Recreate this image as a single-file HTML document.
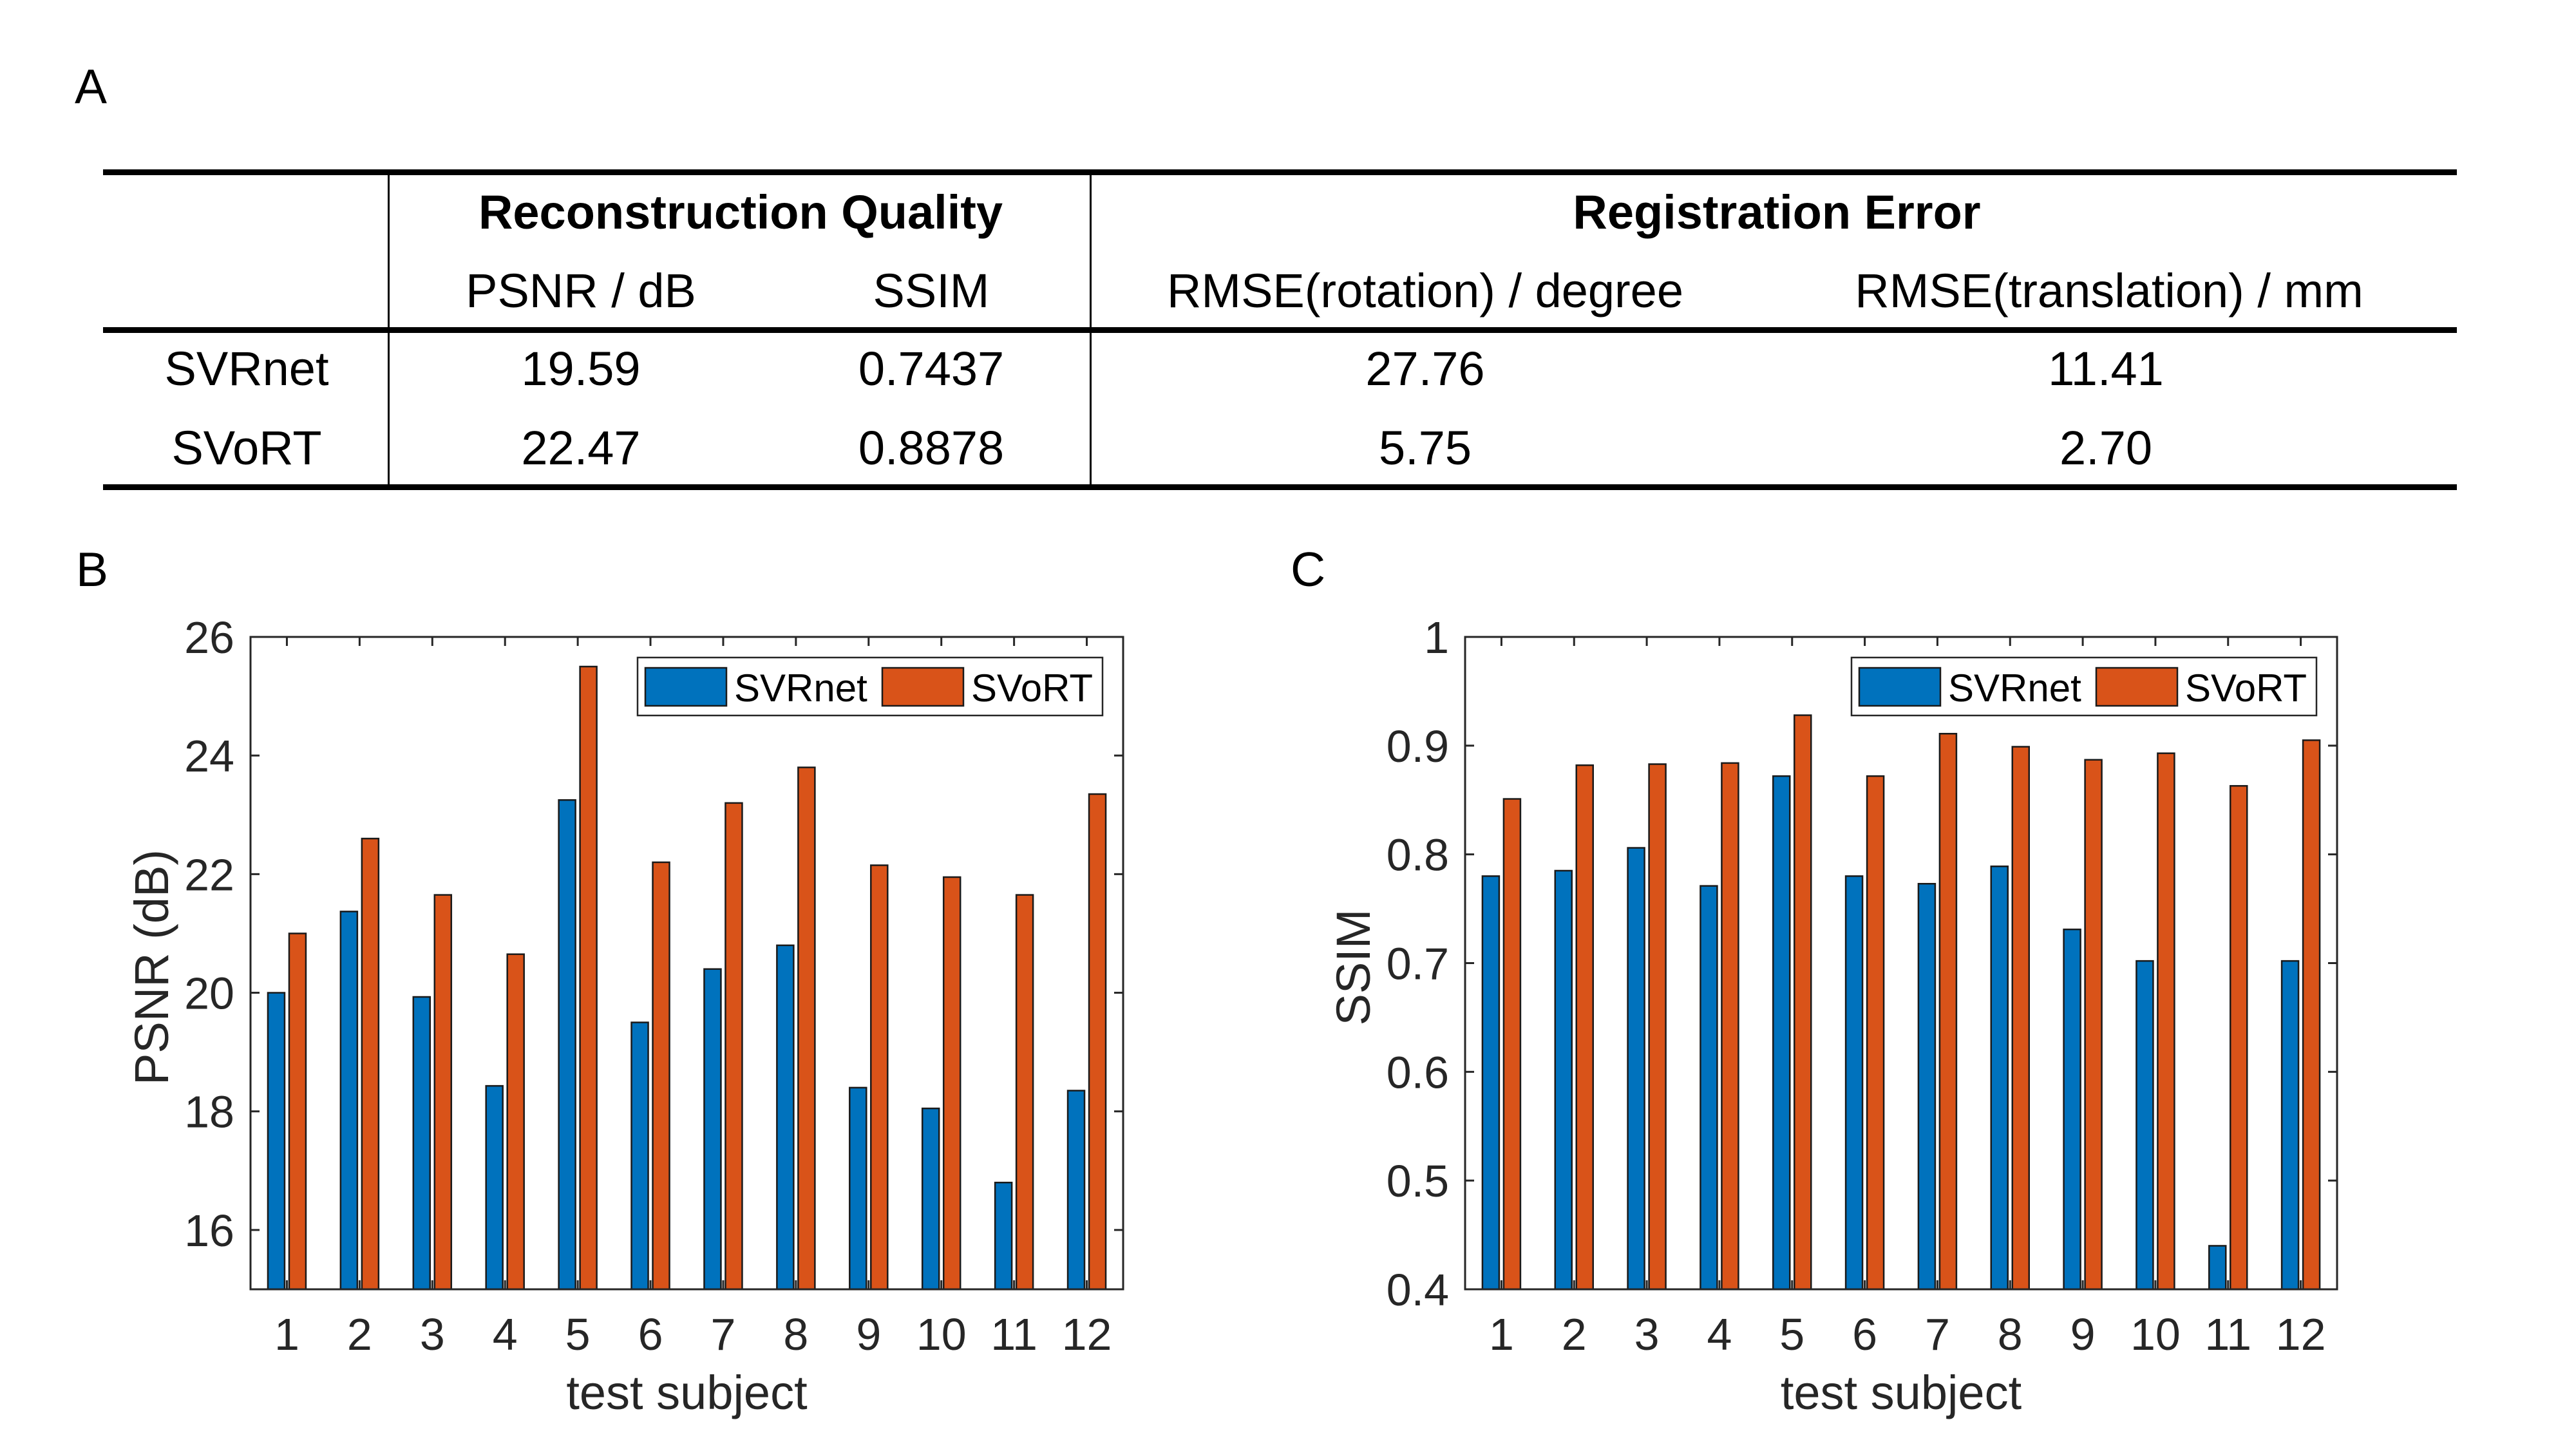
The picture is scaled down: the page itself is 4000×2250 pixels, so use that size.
<!DOCTYPE html>
<html><head><meta charset="utf-8"><style>
html,body{margin:0;padding:0;background:#fff}
svg{display:block;font-family:"Liberation Sans",Arial,sans-serif}
</style></head><body>
<svg id="fig" width="4000" height="2250" viewBox="0 0 4000 2250" xmlns="http://www.w3.org/2000/svg">
<rect width="4000" height="2250" fill="#fff"/>
<text x="116" y="160" font-size="75">A</text>
<g font-size="74" text-anchor="middle" fill="#000">
  <rect x="160" y="263" width="3655" height="9" fill="#000"/>
  <rect x="160" y="508" width="3655" height="9" fill="#000"/>
  <rect x="160" y="752" width="3655" height="9" fill="#000"/>
  <rect x="602" y="272" width="3" height="480" fill="#000"/>
  <rect x="1692" y="272" width="3" height="480" fill="#000"/>
  <text x="1150" y="355" font-weight="bold">Reconstruction Quality</text>
  <text x="2759" y="355" font-weight="bold">Registration Error</text>
  <text x="902" y="477">PSNR / dB</text>
  <text x="1446" y="477">SSIM</text>
  <text x="2213" y="477">RMSE(rotation) / degree</text>
  <text x="3275" y="477">RMSE(translation) / mm</text>
  <text x="383" y="598">SVRnet</text>
  <text x="902" y="598">19.59</text>
  <text x="1446" y="598">0.7437</text>
  <text x="2213" y="598">27.76</text>
  <text x="3270" y="598">11.41</text>
  <text x="383" y="721">SVoRT</text>
  <text x="902" y="721">22.47</text>
  <text x="1446" y="721">0.8878</text>
  <text x="2213" y="721">5.75</text>
  <text x="3270" y="721">2.70</text>
</g>
<text x="118" y="910" font-size="75">B</text>
<text x="2004" y="910" font-size="75">C</text>
<g id="chartB"></g>
<g id="chartC"></g>
</svg>
<script>
const categories = [1,2,3,4,5,6,7,8,9,10,11,12];
const psnrSVRnet = [20.0,21.37,19.93,18.43,23.25,19.5,20.4,20.8,18.4,18.05,16.8,18.35];
const psnrSVoRT = [21.0,22.6,21.65,20.65,25.5,22.2,23.2,23.8,22.15,21.95,21.65,23.35];
const psnrTicks = [16,18,20,22,24,26];
const psnrTickLabels = ["16","18","20","22","24","26"];
const ssimSVRnet = [0.78,0.785,0.806,0.771,0.872,0.78,0.773,0.789,0.731,0.702,0.44,0.702];
const ssimSVoRT = [0.851,0.882,0.883,0.884,0.928,0.872,0.911,0.899,0.887,0.893,0.863,0.905];
const ssimTicks = [0.4,0.5,0.6,0.7,0.8,0.9,1];
const ssimTickLabels = ["0.4","0.5","0.6","0.7","0.8","0.9","1"];
const seriesNames = ["SVRnet","SVoRT"];

const NS="http://www.w3.org/2000/svg";
function mk(parent,tag,attrs,txt){const e=document.createElementNS(NS,tag);for(const k in attrs)e.setAttribute(k,attrs[k]);if(txt!==undefined)e.textContent=txt;parent.appendChild(e);return e;}

function drawChart(g,x0,x1,y0,y1,ymin,ymax,s1,s2,ticks,tickLabels,ytitle,key){
  const W=x1-x0, n=categories.length, step=W/n;
  const xs=i=>x0+step*(i+0.5);
  const ys=v=>y1-(v-ymin)/(ymax-ymin)*(y1-y0);
  const bw=26, off=16.5;
  [s1,s2].forEach((s,si)=>{
    s.forEach((v,i)=>{
      const cx=xs(i)+(si===0?-off:off);
      const r=mk(g,'rect',{x:cx-bw/2,y:ys(v),width:bw,height:y1-ys(v),fill:si===0?'#0072BD':'#D95319',stroke:'#1a1a1a','stroke-width':2.5});
      
      
    });
  });
  const ax=mk(g,'rect',{x:x0,y:y0,width:W,height:y1-y0,fill:'none',stroke:'#262626','stroke-width':3});
  
  
  categories.forEach((c,i)=>{
    const x=xs(i);
    mk(g,'line',{x1:x,x2:x,y1:y1,y2:y1-14,stroke:'#262626','stroke-width':3});
    mk(g,'line',{x1:x,x2:x,y1:y0,y2:y0+14,stroke:'#262626','stroke-width':3});
    const t=mk(g,'text',{x:x,y:2096,'font-size':70,'text-anchor':'middle',fill:'#262626'},String(c));
    
    
  });
  ticks.forEach((v,i)=>{
    const y=ys(v);
    mk(g,'line',{x1:x0,x2:x0+14,y1:y,y2:y,stroke:'#262626','stroke-width':3});
    mk(g,'line',{x1:x1,x2:x1-14,y1:y,y2:y,stroke:'#262626','stroke-width':3});
    const t=mk(g,'text',{x:x0-25,y:y+25,'font-size':70,'text-anchor':'end',fill:'#262626'},tickLabels[i]);
    
    
  });
  const xt=mk(g,'text',{x:(x0+x1)/2,y:2188,'font-size':74,'text-anchor':'middle',fill:'#262626'},'test subject');
  
  
  const tx=x0-(key==='psnr'?128:148);
  const yt=mk(g,'text',{x:tx,y:1502,'font-size':74,'text-anchor':'middle',fill:'#262626',transform:'rotate(-90 '+tx+' 1502)'},ytitle);
  
  
  const lx=x1-32-722;
  const lg=mk(g,'g',{});
  
  
  mk(lg,'rect',{x:lx,y:1021,width:722,height:90,fill:'#fff',stroke:'#262626','stroke-width':2.5});
  [[12,'#0072BD',150],[380,'#D95319',518]].forEach((p,si)=>{
    const e=mk(lg,'g',{});
    
    
    mk(e,'rect',{x:lx+p[0],y:1037,width:126,height:59,fill:p[1],stroke:'#1a1a1a','stroke-width':2.5});
    mk(e,'text',{x:lx+p[2],y:1089,'font-size':60,fill:'#000'},seriesNames[si]);
  });
}
drawChart(document.getElementById('chartB'),389,1744,989,2002,15,26,psnrSVRnet,psnrSVoRT,psnrTicks,psnrTickLabels,'PSNR (dB)','psnr');
drawChart(document.getElementById('chartC'),2275,3629,989,2002,0.4,1,ssimSVRnet,ssimSVoRT,ssimTicks,ssimTickLabels,'SSIM','ssim');
</script>
</body></html>
